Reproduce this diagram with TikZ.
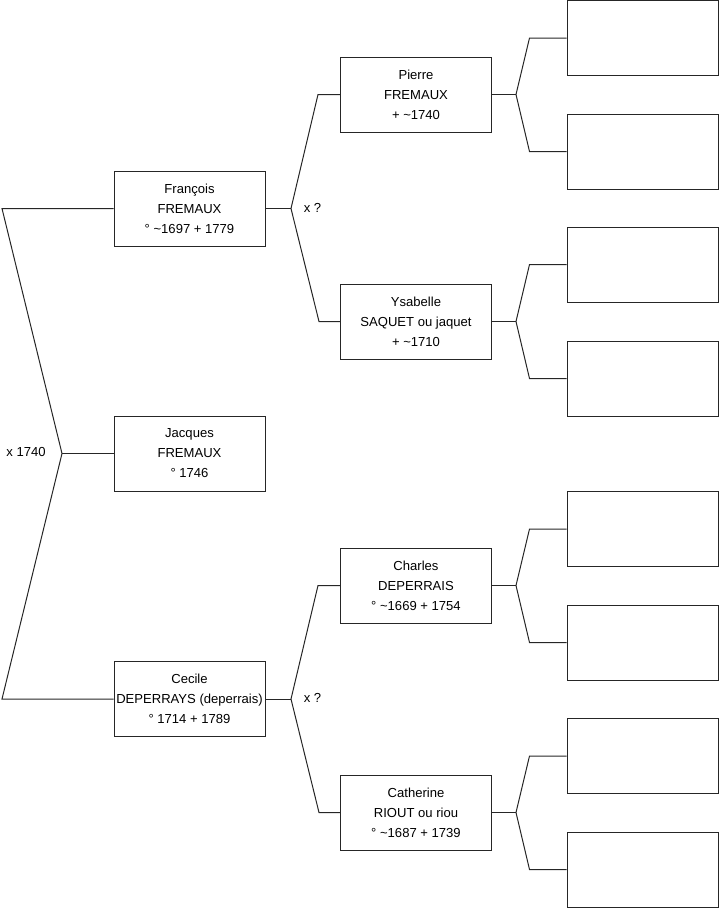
\documentclass[tikz,border=0pt]{standalone}
\usepackage{fontspec}
\setmainfont{Liberation Sans}
\begin{document}
\begin{tikzpicture}[x=0.75pt,y=-0.75pt,
  line/.style={draw=black!85,line width=0.75pt},
  person/.style={draw=black!85,line width=0.75pt,fill=white,minimum width=113.25pt,minimum height=56.25pt,inner sep=0pt,align=center,font=\fontsize{9.8}{15}\selectfont},
  lbl/.style={font=\fontsize{9.8}{11}\selectfont,inner sep=0pt}]
\useasboundingbox (0,0) rectangle (719,908);
% generation 1
\node[person] (fr) at (189.5,208.5) {François\\FREMAUX\\° \textasciitilde1697 + 1779};
\node[person] (ja) at (189.5,453.5) {Jacques\\FREMAUX\\° 1746};
\node[person] (ce) at (189.5,699) {Cecile\\DEPERRAYS (deperrais)\\° 1714 + 1789};
% generation 2
\node[person] (pi) at (416,94.5) {Pierre\\FREMAUX\\+ \textasciitilde1740};
\node[person] (ys) at (416,321.5) {Ysabelle\\SAQUET ou jaquet\\+ \textasciitilde1710};
\node[person] (ch) at (416,585.5) {Charles\\DEPERRAIS\\° \textasciitilde1669 + 1754};
\node[person] (ca) at (416,812.5) {Catherine\\RIOUT ou riou\\° \textasciitilde1687 + 1739};
% generation 3
\node[person] (b1) at (642.5,38) {};
\node[person] (b2) at (642.5,151.5) {};
\node[person] (b3) at (642.5,264.5) {};
\node[person] (b4) at (642.5,378.5) {};
\node[person] (b5) at (642.5,529) {};
\node[person] (b6) at (642.5,642.5) {};
\node[person] (b7) at (642.5,756) {};
\node[person] (b8) at (642.5,869.5) {};
% fork of generation 1
\coordinate (v0) at (62,453.5);
\coordinate (t0) at (2,208.5);
\coordinate (u0) at (2,699);
\draw[line] (fr.west) -- (t0) -- (v0) -- (u0) -- (ce.west);
\draw[line] (v0) -- (ja.west);
\node[lbl] (m0) at (26,451.5) {x 1740};
% forks of generation 2
\coordinate (vf) at (291,208.5);
\draw[line] (fr.east) -- (vf);
\draw[line] (pi.west) -- ++(-22,0) -- (vf) -- (319,321.5) -- (ys.west);
\node[lbl] (mf) at (312.5,208) {x ?};
\coordinate (vc) at (291,699);
\draw[line] (ce.east) -- (vc);
\draw[line] (ch.west) -- ++(-22,0) -- (vc) -- (319,812.5) -- (ca.west);
\node[lbl] (mc) at (312.5,698) {x ?};
% forks of generation 3
\foreach \p/\a/\b in {pi/b1/b2, ys/b3/b4, ch/b5/b6, ca/b7/b8}{
  \coordinate (w\p) at ([xshift=18pt]\p.east);
  \draw[line] (\p.east) -- (w\p);
  \draw[line] (\a.west) -- ++(-37,0) -- (w\p) -- ([xshift=-27.75pt]\b.west) -- (\b.west);
}
\end{tikzpicture}
\end{document}
